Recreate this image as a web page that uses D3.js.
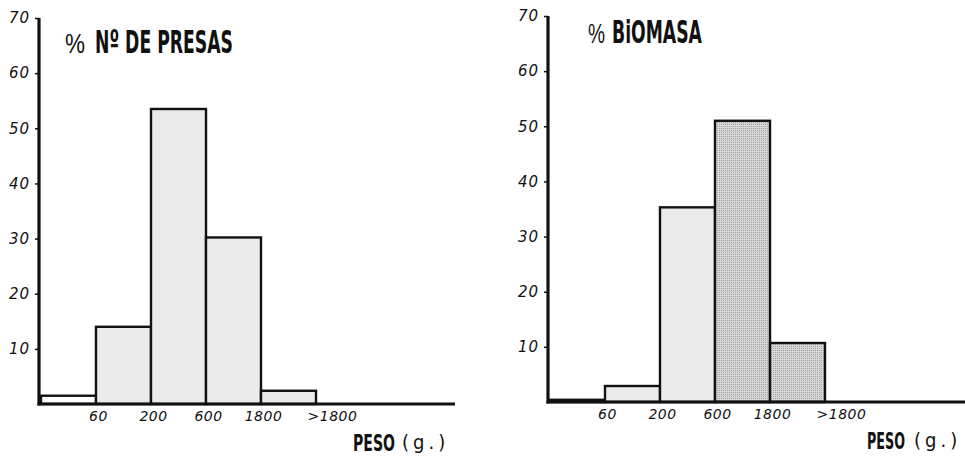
<!DOCTYPE html>
<html>
<head>
<meta charset="utf-8">
<script src="https://cdn.jsdelivr.net/npm/d3@7"></script>
<style>
  html, body { margin: 0; padding: 0; background: #fff; }
  svg { display: block; }
</style>
</head>
<body>
<svg id="chart" width="965" height="464"></svg>
<script>
// ---- data ----
const categories = ["<60", "60-200", "200-600", "600-1800", ">1800"];
const tickLabels = ["60", "200", "600", "1800", ">1800"];
const yTicks = [10, 20, 30, 40, 50, 60, 70];
const presas = [1.5, 14.0, 53.5, 30.2, 2.4];
const biomasa = [0.4, 2.9, 35.3, 51.0, 10.7];
const titlePresas = "Nº DE PRESAS";
const titleBiomasa = "BiOMASA";
const xTitle = "PESO";
const xUnit = "(g.)";

// ---- styles (kept separate from data) ----
const fillsPresas = ["white", "light", "light", "light", "light"];
const fillsBiomasa = ["light", "light", "light", "stipple", "stipple"];

const svg = d3.select("#chart");
const defs = svg.append("defs");
const pat = defs.append("pattern").attr("id", "stip")
  .attr("width", 2).attr("height", 2).attr("patternUnits", "userSpaceOnUse");
pat.append("rect").attr("width", 2).attr("height", 2).attr("fill", "#d8d8d8");
pat.append("rect").attr("width", 1).attr("height", 1).attr("fill", "#a0a0a0");

const fillMap = { white: "#ffffff", light: "#ebebeb", stipple: "url(#stip)" };
const condensed = "'Liberation Sans Narrow', 'DejaVu Sans Condensed', sans-serif";

// text squeezed horizontally to a target width via a scale transform
function fitText(g, x, y, width, txt, family, size, weight) {
  const t = g.append("text")
    .attr("font-family", family).attr("font-size", size)
    .attr("font-weight", weight).attr("fill", "#111").text(txt);
  const w = t.node().getComputedTextLength();
  t.attr("transform", `translate(${x},${y}) scale(${width / w},1)`);
  return t;
}

function panel(cfg) {
  const g = svg.append("g").attr("transform", `translate(${cfg.dx},${cfg.dy})`);
  const x = d3.scaleLinear().domain([0, categories.length]).range([41, 316]);
  const y = d3.scaleLinear().domain([0, 70]).range([404, 18]);
  const axisX = 39, plotRight = cfg.right;

  // bars
  g.selectAll("rect.bar").data(cfg.values).join("rect")
    .attr("class", "bar")
    .attr("x", (d, i) => x(i))
    .attr("y", d => y(d))
    .attr("width", x(1) - x(0))
    .attr("height", d => y(0) - y(d))
    .attr("fill", (d, i) => fillMap[cfg.fills[i]])
    .attr("stroke", "#111")
    .attr("stroke-width", 2.4);

  // y axis
  const ya = g.append("g").attr("transform", `translate(${axisX},0)`)
    .call(d3.axisLeft(y).tickValues(yTicks).tickSize(4).tickPadding(5).tickFormat(d3.format("d")));
  ya.select(".domain").remove();
  ya.selectAll(".tick line").attr("stroke", "#111").attr("stroke-width", 1.5);
  ya.selectAll(".tick text")
    .attr("font-family", "'DejaVu Sans', sans-serif")
    .attr("font-style", "italic")
    .attr("font-size", 15)
    .attr("letter-spacing", 1)
    .attr("fill", "#111");
  g.append("line").attr("x1", axisX).attr("x2", axisX)
    .attr("y1", y(70)).attr("y2", y(0) + 1.5)
    .attr("stroke", "#111").attr("stroke-width", 3.2);

  // x baseline
  g.append("line").attr("x1", axisX - 1.5).attr("x2", plotRight)
    .attr("y1", y(0)).attr("y2", y(0))
    .attr("stroke", "#111").attr("stroke-width", 3.2);

  // x tick labels at bin boundaries
  const xa = g.append("g").attr("transform", `translate(0,${y(0)})`)
    .call(d3.axisBottom(x).tickValues(d3.range(1, categories.length + 1))
      .tickSize(0).tickPadding(7).tickFormat((d, i) => tickLabels[i]));
  xa.select(".domain").remove();
  xa.selectAll(".tick text")
    .attr("font-family", "'DejaVu Sans', sans-serif")
    .attr("font-style", "italic")
    .attr("font-size", 14)
    .attr("letter-spacing", 0.5)
    .attr("fill", "#111")
    .attr("dx", (d, i) => i === tickLabels.length - 1 ? 16 : 2);

  // titles
  fitText(g, cfg.pctX, cfg.titleY, cfg.pctLen, "%", "'Liberation Sans', sans-serif", 28, "normal");
  fitText(g, cfg.titleX, cfg.titleY, cfg.titleLen, cfg.title, condensed, 32, "bold");

  // x axis title
  fitText(g, cfg.pesoX, 451, cfg.pesoLen, xTitle, condensed, 23, "bold");
  g.append("text").attr("x", cfg.unitX).attr("y", 449)
    .attr("font-family", condensed)
    .attr("font-size", 20).attr("fill", "#111")
    .attr("letter-spacing", 4)
    .text(xUnit);
}

panel({ values: presas, fills: fillsPresas, dx: 0, dy: 0, right: 455,
  title: titlePresas, pctX: 65, pctLen: 20, titleX: 95, titleY: 53, titleLen: 138,
  pesoX: 353, pesoLen: 42, unitX: 402 });
panel({ values: biomasa, fills: fillsBiomasa, dx: 509, dy: -2, right: 965 - 509,
  title: titleBiomasa, pctX: 588 - 509, pctLen: 17, titleX: 612 - 509, titleY: 45, titleLen: 90,
  pesoX: 867 - 509, pesoLen: 38, unitX: 914 - 509 });
</script>
</body>
</html>
